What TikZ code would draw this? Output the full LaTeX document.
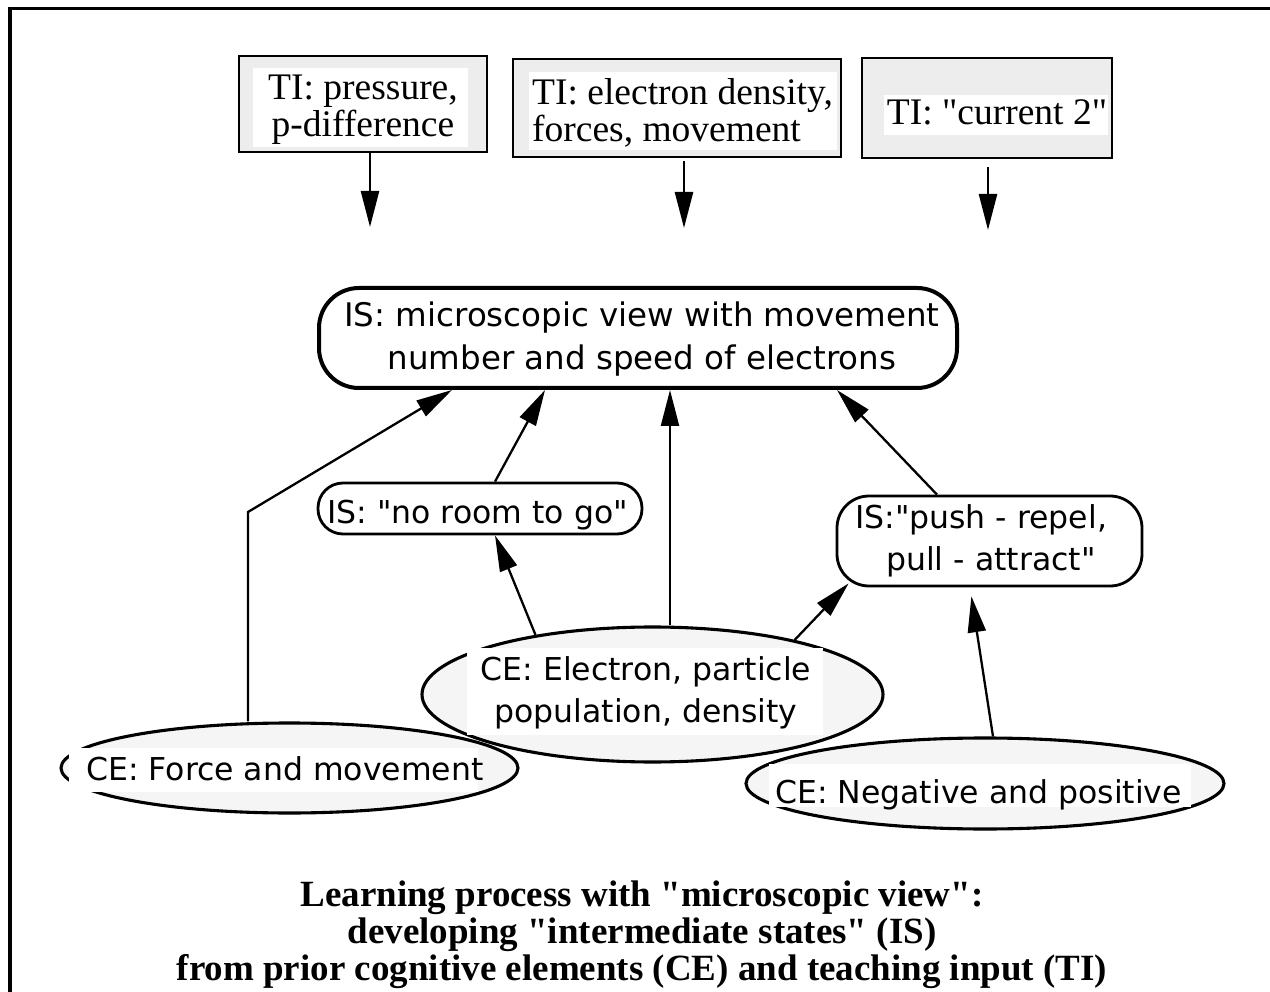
\documentclass[tikz,border=0pt]{standalone}
\usepackage{fontspec}
\newfontfamily\tfont{Liberation Serif}
\newfontfamily\sfx{DejaVu Sans}
\usetikzlibrary{arrows.meta,shapes.geometric,calc}
\definecolor{tifill}{gray}{0.93}
\definecolor{cefill}{gray}{0.96}
\begin{document}
\begin{tikzpicture}[x=1pt,y=-1pt,
  arr/.style={line width=2.3pt, -{Triangle[length=36pt,width=18pt]}},
  tibox/.style={draw, line width=2.7pt, fill=tifill, inner sep=0pt},
  bgbox/.style={fill=white, inner sep=0pt},
  titext/.style={font=\tfont\fontsize{37.5}{37}\selectfont, inner sep=0pt},
  isbox/.style={draw, line width=2.8pt, fill=white, inner sep=0pt},
  ceell/.style={ellipse, draw, line width=3.1pt, fill=cefill, inner sep=0pt},
  sftext/.style={font=\sfx\fontsize{31.5}{42}\selectfont, inner sep=0pt},
]
\useasboundingbox (0,0) rectangle (1270,992);
\fill[white] (0,0) rectangle (1270,992);
\draw[line width=3.4pt] (1272,8.3) -- (10,8.3) -- (10,994);

% teaching input boxes
\node[tibox, minimum width=248, minimum height=96] (b1) at (363,104) {};
\node[bgbox, minimum width=215, minimum height=79] (b1bg) at (360.5,107.5) {};
\node[titext, align=center, anchor=base] (b1t) at (363,137) {TI: pressure,\\p-difference};

\node[tibox, minimum width=328, minimum height=98] (b2) at (677,108) {};
\node[bgbox, minimum width=308, minimum height=78] (b2bg) at (683,111) {};
\node[titext, align=left, anchor=base west] (b2t) at (532,142) {TI: electron density,\\forces, movement};

\node[tibox, minimum width=250, minimum height=100] (b3) at (987,108) {};
\node[bgbox, minimum width=224, minimum height=40] (b3bg) at (996,115) {};
\node[titext, anchor=base] (b3t) at (997,125) {TI: "current 2"};

\coordinate (t1) at (370,227);
\coordinate (t2) at (684,228);
\coordinate (t3) at (988,230);
\draw[arr, line width=2.5pt] (b1.south -| t1) -- (t1);
\draw[arr, line width=2.5pt, shorten <=3pt] (b2.south -| t2) -- (t2);
\draw[arr, line width=2.5pt, shorten <=8pt] (b3.south -| t3) -- (t3);

% intermediate states
\node[isbox, line width=4pt, rounded corners=40pt, minimum width=638, minimum height=100] (m) at (638,338) {};
\node[sftext, font=\sfx\fontsize{32.5}{43}\selectfont, align=center, anchor=base] (mt) at (642,370) {IS: microscopic view with movement\\number and speed of electrons};

\node[isbox, rounded corners=25pt, minimum width=324, minimum height=51] (nr) at (480,508.5) {};
\node[sftext, anchor=base] (nrt) at (477.5,523) {IS: "no room to go"};

\node[isbox, rounded corners=32pt, minimum width=305, minimum height=90] (pr) at (989.5,541) {};
\node[sftext, align=left, anchor=base west] (prt) at (855,570) {IS:"push - repel,\\\hspace*{31pt}pull - attract"};

% cognitive elements
\node[ceell, minimum width=457, minimum height=90] (f) at (289.5,768) {};
\node[bgbox, minimum width=409, minimum height=44] (fbg) at (273.5,770) {};
\node[sftext, anchor=base west] (ft) at (86,780) {CE: Force and movement};

\node[ceell, minimum width=461, minimum height=135] (e) at (652.5,694.5) {};
\node[bgbox, minimum width=356, minimum height=87] (ebg) at (645,691.5) {};
\node[sftext, align=center, anchor=base] (et) at (646,722) {CE: Electron, particle\\population, density};

\node[ceell, minimum width=478, minimum height=91] (n) at (985,783.5) {};
\node[bgbox, minimum width=422, minimum height=43] (nbg) at (980,785.5) {};
\node[sftext, anchor=base west] (nt) at (775,803) {CE: Negative and positive};

% connectors
\coordinate (fbend) at (248,512);
\draw[arr, line join=miter] (f.north -| fbend) -- (fbend) -- (m.south -| 452,0);
\draw[arr] (nr.north -| 495,0) -- (m.south -| 545,0);
\draw[arr] (e.north -| 670,0) -- (m.south -| 670,0);
\draw[arr] (pr.north -| 937,0) -- (m.south -| 837,0);
\draw[arr] (e.153) -- (nr.south -| 495,0);
\draw[arr] (e.21) -- ($(pr.south west)+(13,-4)$);
\draw[arr, shorten >=9pt] (n.north -| 993,0) -- (pr.south -| 970,0);

% caption
\node[font=\tfont\bfseries\fontsize{37}{37}\selectfont, align=center, anchor=base, inner sep=0pt] (title) at (642,980) {Learning process with "microscopic view":\\developing "intermediate states" (IS)\\from prior cognitive elements (CE) and teaching input (TI)};
\end{tikzpicture}
\end{document}
